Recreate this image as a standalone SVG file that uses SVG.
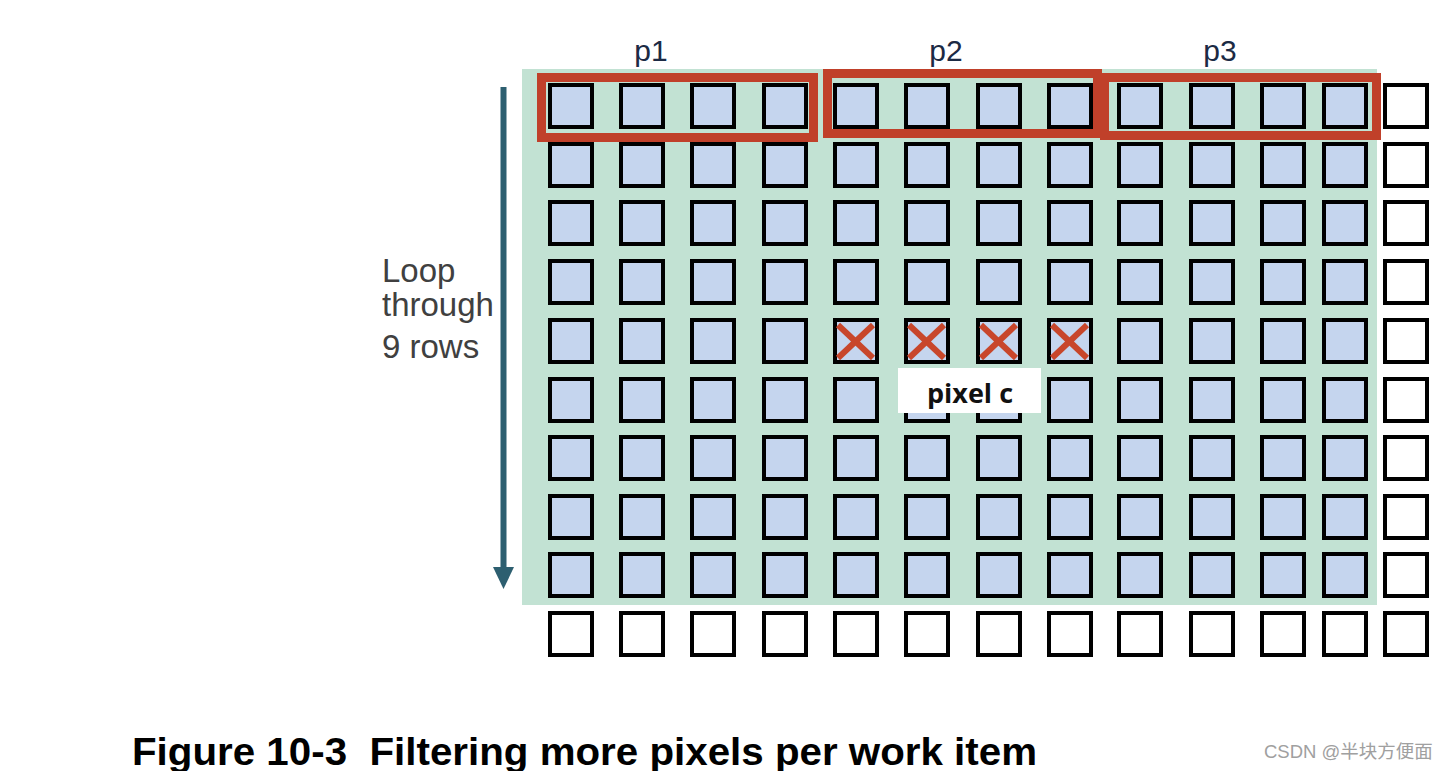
<svg xmlns="http://www.w3.org/2000/svg" width="1451" height="771" viewBox="0 0 1451 771">
<style>
.b{fill:#c5d5ee;stroke:#000;stroke-width:4}
.w{fill:#fff;stroke:#000;stroke-width:4}
.red{fill:none;stroke:#c0402a;stroke-width:9}
.x{stroke:#c8462b;stroke-width:6;stroke-linecap:butt}
.lbl{font-family:"Liberation Sans",Arial,sans-serif;font-size:30px;fill:#1c2a44;text-anchor:middle}
.loop{font-family:"Liberation Sans",Arial,sans-serif;font-size:33px;fill:#404040}
</style>
<defs>
<rect id="bs" width="42" height="42" class="b"/>
<rect id="ws" width="42" height="42" class="w"/>
<g id="xm"><line x1="0" y1="0" x2="35" y2="33" class="x"/><line x1="35" y1="0" x2="0" y2="33" class="x"/></g>
</defs>
<rect width="1451" height="771" fill="#fff"/>
<g id="background"><rect x="522" y="69" width="855" height="536" fill="#c2e2d3"/></g>
<g id="grid">
<g id="row1" transform="translate(0,85)"><use href="#bs" x="550"/><use href="#bs" x="621"/><use href="#bs" x="692"/><use href="#bs" x="764"/><use href="#bs" x="835"/><use href="#bs" x="906"/><use href="#bs" x="978"/><use href="#bs" x="1049"/><use href="#bs" x="1119"/><use href="#bs" x="1191"/><use href="#bs" x="1262"/><use href="#bs" x="1324"/><use href="#ws" x="1385"/></g>
<g id="row2" transform="translate(0,144)"><use href="#bs" x="550"/><use href="#bs" x="621"/><use href="#bs" x="692"/><use href="#bs" x="764"/><use href="#bs" x="835"/><use href="#bs" x="906"/><use href="#bs" x="978"/><use href="#bs" x="1049"/><use href="#bs" x="1119"/><use href="#bs" x="1191"/><use href="#bs" x="1262"/><use href="#bs" x="1324"/><use href="#ws" x="1385"/></g>
<g id="row3" transform="translate(0,202)"><use href="#bs" x="550"/><use href="#bs" x="621"/><use href="#bs" x="692"/><use href="#bs" x="764"/><use href="#bs" x="835"/><use href="#bs" x="906"/><use href="#bs" x="978"/><use href="#bs" x="1049"/><use href="#bs" x="1119"/><use href="#bs" x="1191"/><use href="#bs" x="1262"/><use href="#bs" x="1324"/><use href="#ws" x="1385"/></g>
<g id="row4" transform="translate(0,261)"><use href="#bs" x="550"/><use href="#bs" x="621"/><use href="#bs" x="692"/><use href="#bs" x="764"/><use href="#bs" x="835"/><use href="#bs" x="906"/><use href="#bs" x="978"/><use href="#bs" x="1049"/><use href="#bs" x="1119"/><use href="#bs" x="1191"/><use href="#bs" x="1262"/><use href="#bs" x="1324"/><use href="#ws" x="1385"/></g>
<g id="row5" transform="translate(0,320)"><use href="#bs" x="550"/><use href="#bs" x="621"/><use href="#bs" x="692"/><use href="#bs" x="764"/><use href="#bs" x="835"/><use href="#bs" x="906"/><use href="#bs" x="978"/><use href="#bs" x="1049"/><use href="#bs" x="1119"/><use href="#bs" x="1191"/><use href="#bs" x="1262"/><use href="#bs" x="1324"/><use href="#ws" x="1385"/></g>
<g id="row6" transform="translate(0,379)"><use href="#bs" x="550"/><use href="#bs" x="621"/><use href="#bs" x="692"/><use href="#bs" x="764"/><use href="#bs" x="835"/><use href="#bs" x="906"/><use href="#bs" x="978"/><use href="#bs" x="1049"/><use href="#bs" x="1119"/><use href="#bs" x="1191"/><use href="#bs" x="1262"/><use href="#bs" x="1324"/><use href="#ws" x="1385"/></g>
<g id="row7" transform="translate(0,437)"><use href="#bs" x="550"/><use href="#bs" x="621"/><use href="#bs" x="692"/><use href="#bs" x="764"/><use href="#bs" x="835"/><use href="#bs" x="906"/><use href="#bs" x="978"/><use href="#bs" x="1049"/><use href="#bs" x="1119"/><use href="#bs" x="1191"/><use href="#bs" x="1262"/><use href="#bs" x="1324"/><use href="#ws" x="1385"/></g>
<g id="row8" transform="translate(0,496)"><use href="#bs" x="550"/><use href="#bs" x="621"/><use href="#bs" x="692"/><use href="#bs" x="764"/><use href="#bs" x="835"/><use href="#bs" x="906"/><use href="#bs" x="978"/><use href="#bs" x="1049"/><use href="#bs" x="1119"/><use href="#bs" x="1191"/><use href="#bs" x="1262"/><use href="#bs" x="1324"/><use href="#ws" x="1385"/></g>
<g id="row9" transform="translate(0,554)"><use href="#bs" x="550"/><use href="#bs" x="621"/><use href="#bs" x="692"/><use href="#bs" x="764"/><use href="#bs" x="835"/><use href="#bs" x="906"/><use href="#bs" x="978"/><use href="#bs" x="1049"/><use href="#bs" x="1119"/><use href="#bs" x="1191"/><use href="#bs" x="1262"/><use href="#bs" x="1324"/><use href="#ws" x="1385"/></g>
<g id="row10" transform="translate(0,613)"><use href="#ws" x="550"/><use href="#ws" x="621"/><use href="#ws" x="692"/><use href="#ws" x="764"/><use href="#ws" x="835"/><use href="#ws" x="906"/><use href="#ws" x="978"/><use href="#ws" x="1049"/><use href="#ws" x="1119"/><use href="#ws" x="1191"/><use href="#ws" x="1262"/><use href="#ws" x="1324"/><use href="#ws" x="1385"/></g>
</g>
<g id="crosses" transform="translate(0,325)">
<use href="#xm" x="838"/><use href="#xm" x="909"/><use href="#xm" x="981"/><use href="#xm" x="1052"/>
</g>
<g id="p1"><rect x="541.5" y="77.5" width="272" height="60" class="red"/><text x="651" y="61" class="lbl">p1</text></g>
<g id="p2"><rect x="827.5" y="73.5" width="270" height="60" class="red"/><text x="946" y="61" class="lbl">p2</text></g>
<g id="p3"><rect x="1104.5" y="77.5" width="272" height="58" class="red"/><text x="1220" y="61" class="lbl">p3</text></g>
<g id="pixelc"><rect x="898" y="368" width="143" height="45" fill="#fff"/><text x="970" y="403" font-family="'Open Sans','Liberation Sans',sans-serif" font-weight="bold" font-size="27" fill="#111" text-anchor="middle">pixel c</text></g>
<g id="connectors">
<line x1="503.5" y1="87" x2="503.5" y2="569" stroke="#2d5f70" stroke-width="6"/>
<polygon points="493,567 514,567 503.5,589" fill="#2d5f70"/>
</g>
<g id="loop-label">
<text class="loop" x="382" y="282">Loop</text>
<text class="loop" x="382" y="316">through</text>
<text class="loop" x="382" y="358">9 rows</text>
</g>
<text x="132" y="765" font-family="'Liberation Sans',Arial,sans-serif" font-weight="bold" font-size="39" fill="#000" textLength="905" lengthAdjust="spacingAndGlyphs" xml:space="preserve">Figure 10-3  Filtering more pixels per work item</text>
<text x="1264" y="758" font-family="'Liberation Sans','Noto Sans CJK SC',sans-serif" font-size="18.5" fill="#a0a0a0">CSDN @半块方便面</text>
</svg>
